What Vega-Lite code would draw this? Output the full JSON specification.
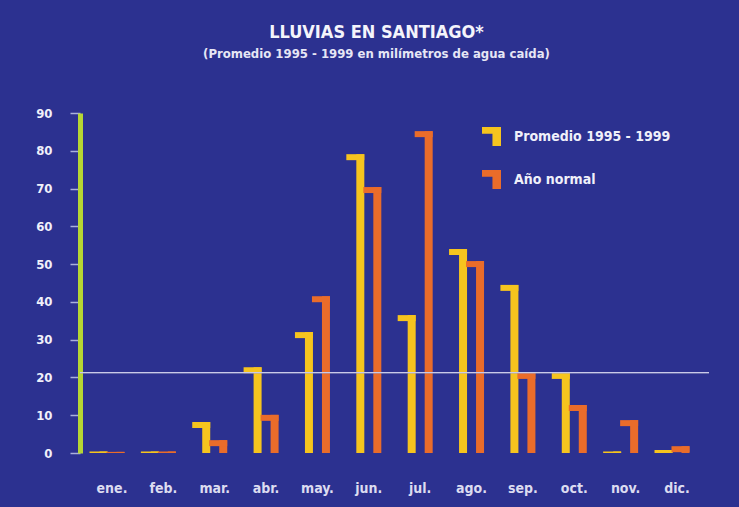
{
  "$schema": "https://vega.github.io/schema/vega-lite/v6.json",
  "width": 629,
  "height": 340,
  "autosize": {"type": "none"},
  "padding": {"left": 80, "top": 113, "right": 30, "bottom": 54},
  "background": "#2c3190",
  "title": {
    "text": "LLUVIAS EN SANTIAGO*",
    "subtitle": "(Promedio 1995 - 1999 en milímetros de agua caída)",
    "anchor": "middle",
    "dx": -18,
    "offset": 46,
    "font": "'DejaVu Sans Condensed', 'Roboto Condensed', 'Liberation Sans Narrow', Roboto, sans-serif",
    "fontSize": 18,
    "fontWeight": "bold",
    "color": "#f4f4fb",
    "subtitleFont": "'DejaVu Sans Condensed', 'Roboto Condensed', 'Liberation Sans Narrow', Roboto, sans-serif",
    "subtitleFontSize": 13,
    "subtitleFontWeight": "bold",
    "subtitleColor": "#e6e6f5",
    "subtitlePadding": 6
  },
  "data": {
    "values": [
      {"mes": "ene.", "serie": "Promedio 1995 - 1999", "mm": 0.4},
      {"mes": "ene.", "serie": "Año normal", "mm": 0.3},
      {"mes": "feb.", "serie": "Promedio 1995 - 1999", "mm": 0.4},
      {"mes": "feb.", "serie": "Año normal", "mm": 0.4},
      {"mes": "mar.", "serie": "Promedio 1995 - 1999", "mm": 8.2},
      {"mes": "mar.", "serie": "Año normal", "mm": 3.4},
      {"mes": "abr.", "serie": "Promedio 1995 - 1999", "mm": 22.7},
      {"mes": "abr.", "serie": "Año normal", "mm": 10.1},
      {"mes": "may.", "serie": "Promedio 1995 - 1999", "mm": 32.0},
      {"mes": "may.", "serie": "Año normal", "mm": 41.5},
      {"mes": "jun.", "serie": "Promedio 1995 - 1999", "mm": 79.1},
      {"mes": "jun.", "serie": "Año normal", "mm": 70.4},
      {"mes": "jul.", "serie": "Promedio 1995 - 1999", "mm": 36.5},
      {"mes": "jul.", "serie": "Año normal", "mm": 85.2},
      {"mes": "ago.", "serie": "Promedio 1995 - 1999", "mm": 54.0},
      {"mes": "ago.", "serie": "Año normal", "mm": 50.8},
      {"mes": "sep.", "serie": "Promedio 1995 - 1999", "mm": 44.5},
      {"mes": "sep.", "serie": "Año normal", "mm": 21.2},
      {"mes": "oct.", "serie": "Promedio 1995 - 1999", "mm": 21.2},
      {"mes": "oct.", "serie": "Año normal", "mm": 12.7},
      {"mes": "nov.", "serie": "Promedio 1995 - 1999", "mm": 0.4},
      {"mes": "nov.", "serie": "Año normal", "mm": 8.7},
      {"mes": "dic.", "serie": "Promedio 1995 - 1999", "mm": 0.8},
      {"mes": "dic.", "serie": "Año normal", "mm": 1.8}
    ]
  },
  "encoding": {
    "x": {
      "field": "mes",
      "type": "nominal",
      "sort": ["ene.", "feb.", "mar.", "abr.", "may.", "jun.", "jul.", "ago.", "sep.", "oct.", "nov.", "dic."],
      "scale": {"paddingInner": 0.34, "paddingOuter": 0.293},
      "axis": {
        "title": null,
        "domain": false,
        "ticks": false,
        "labelAngle": 0,
        "labelPadding": 28,
        "labelColor": "#dcdcf0",
        "labelFont": "'DejaVu Sans Condensed', 'Roboto Condensed', 'Liberation Sans Narrow', Roboto, sans-serif",
        "labelFontSize": 14,
        "labelFontWeight": "bold"
      }
    },
    "y": {
      "field": "mm",
      "type": "quantitative",
      "scale": {"domain": [0, 90], "nice": false},
      "axis": {
        "title": null,
        "values": [0, 10, 20, 30, 40, 50, 60, 70, 80, 90],
        "labelOverlap": false,
        "grid": false,
        "domainColor": "#b6d634",
        "domainWidth": 5,
        "tickColor": "#aab0dc",
        "tickSize": 10,
        "tickWidth": 1.5,
        "labelPadding": 18,
        "labelColor": "#f0f0fa",
        "labelFont": "'DejaVu Sans Condensed', 'Roboto Condensed', 'Liberation Sans Narrow', Roboto, sans-serif",
        "labelFontSize": 13,
        "labelFontWeight": "bold"
      }
    },
    "color": {
      "field": "serie",
      "type": "nominal",
      "scale": {"domain": ["Promedio 1995 - 1999", "Año normal"], "range": ["#f6c41e", "#ea6c2a"]},
      "legend": {
        "orient": "none",
        "legendX": 402,
        "legendY": 14,
        "title": null,
        "padding": 0,
        "symbolType": "M -1 -1 L 1 -1 L 1 1 L 0.1 1 L 0.1 -0.3 L -1 -0.3 Z",
        "symbolSize": 361,
        "symbolStrokeWidth": 0,
        "symbolOpacity": 1,
        "labelColor": "#f0f0fa",
        "labelFont": "'DejaVu Sans Condensed', 'Roboto Condensed', 'Liberation Sans Narrow', Roboto, sans-serif",
        "labelFontSize": 14,
        "labelFontWeight": "bold",
        "labelOffset": 13,
        "rowPadding": 24
      }
    }
  },
  "layer": [
    {
      "mark": {"type": "bar", "width": 8, "xOffset": -8.5, "clip": true},
      "transform": [{"filter": "datum.serie === 'Promedio 1995 - 1999'"}]
    },
    {
      "mark": {"type": "bar", "width": 8, "xOffset": 8.5, "clip": true},
      "transform": [{"filter": "datum.serie === 'Año normal'"}]
    },
    {
      "mark": {"type": "bar", "width": 18, "xOffset": -13.5, "y2Offset": 6, "clip": true},
      "transform": [{"filter": "datum.serie === 'Promedio 1995 - 1999'"}],
      "encoding": {"y2": {"field": "mm"}}
    },
    {
      "mark": {"type": "bar", "width": 18, "xOffset": 3.5, "y2Offset": 6, "clip": true},
      "transform": [{"filter": "datum.serie === 'Año normal'"}],
      "encoding": {"y2": {"field": "mm"}}
    },
    {
      "mark": {"type": "rule", "color": "#c9cbe8", "strokeWidth": 1, "opacity": 0.8},
      "encoding": {"y": {"datum": 21.3, "type": "quantitative"}, "x": null, "color": null}
    }
  ],
  "config": {
    "view": {"stroke": null}
  }
}
